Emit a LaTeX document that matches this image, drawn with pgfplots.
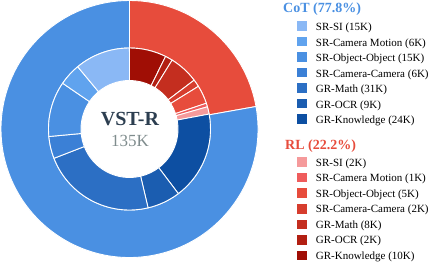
\documentclass[border=0pt]{standalone}
\usepackage{pgfplots}
\usepackage{pgfplotstable}
\pgfplotsset{compat=1.18}
\usepackage{fontspec}
\setmainfont{Liberation Serif}
\usetikzlibrary{calc}

\definecolor{cotmain}{HTML}{4A90E2}
\definecolor{rlmain}{HTML}{E74C3C}
\definecolor{cot1}{HTML}{8AB8F5}
\definecolor{cot2}{HTML}{60A3EE}
\definecolor{cot3}{HTML}{4A90E2}
\definecolor{cot4}{HTML}{3B80D6}
\definecolor{cot5}{HTML}{2C6FC4}
\definecolor{cot6}{HTML}{1B5DB0}
\definecolor{cot7}{HTML}{0D4FA2}
\definecolor{rl1}{HTML}{F59A9B}
\definecolor{rl2}{HTML}{EF5C5C}
\definecolor{rl3}{HTML}{E74C3C}
\definecolor{rl4}{HTML}{D63D2E}
\definecolor{rl5}{HTML}{C42E1F}
\definecolor{rl6}{HTML}{B21F12}
\definecolor{rl7}{HTML}{A00E05}
\definecolor{titlecol}{HTML}{2C3E50}
\definecolor{subcol}{HTML}{7F8C8D}

\pgfplotstableread{
label value
{SR-SI} 15
{SR-Camera Motion} 6
{SR-Object-Object} 15
{SR-Camera-Camera} 6
{GR-Math} 31
{GR-OCR} 9
{GR-Knowledge} 24
}\cotdata

\pgfplotstableread{
label value
{SR-SI} 2
{SR-Camera Motion} 1
{SR-Object-Object} 5
{SR-Camera-Camera} 2
{GR-Math} 8
{GR-OCR} 2
{GR-Knowledge} 10
}\rldata

\pgfplotstableread{
group pct
RL 22.2
CoT 77.8
}\outerdata

\def\rin{48.5pt}
\def\rmid{81pt}
\def\rout{128.5pt}

% total of inner values
\xdef\total{0}
\pgfplotstableforeachcolumnelement{value}\of\cotdata\as\v{\pgfmathsetmacro\t{\total+\v}\xdef\total{\t}}
\pgfplotstableforeachcolumnelement{value}\of\rldata\as\v{\pgfmathsetmacro\t{\total+\v}\xdef\total{\t}}

\newcommand\drawgroup[2]{%
  \pgfplotstablegetrowsof{#1}\pgfmathtruncatemacro\nlast{\pgfplotsretval-1}%
  \foreach \i in {\nlast,...,0}{%
    \pgfplotstablegetelem{\i}{value}\of{#1}\let\v\pgfplotsretval
    \pgfmathsetmacro\a{\curangle}%
    \pgfmathsetmacro\b{\curangle-\v/\total*360}%
    \pgfmathtruncatemacro\ci{\i+1}%
    \fill[#2\ci, draw=white, line width=0.9pt, line join=round]
      ($(axis cs:0,0)+(\a:\rmid)$) arc[start angle=\a, end angle=\b, radius=\rmid]
      -- ($(axis cs:0,0)+(\b:\rin)$) arc[start angle=\b, end angle=\a, radius=\rin] -- cycle;
    \xdef\curangle{\b}%
  }}

\newcommand\legendentry[4]{% y-center of square, baseline, color, text
  \fill[#3] (297.3pt,{#1-4.8pt}) rectangle (306.8pt,{#1+4.8pt});
  \node[anchor=base west, inner sep=0pt, font=\fontsize{11}{13}\selectfont] at (315.7pt,#2) {#4};
}

\begin{document}
\begin{tikzpicture}[x=1pt,y=1pt]
\path[use as bounding box] (0,0) rectangle (431,262);
\begin{axis}[at={(0.5pt,4pt)}, anchor=south west, scale only axis,
  width=258pt, height=258pt, xmin=-1, xmax=1, ymin=-1, ymax=1, hide axis]
\pgfplotsextra{%
  % outer ring
  \pgfplotstablegetelem{0}{pct}\of\outerdata\let\prl\pgfplotsretval
  \pgfmathsetmacro\bnd{90-\prl*3.6}%
  \fill[rlmain, draw=white, line width=0.9pt]
    ($(axis cs:0,0)+(90:\rout)$) arc[start angle=90, end angle=\bnd, radius=\rout]
    -- ($(axis cs:0,0)+(\bnd:\rmid)$) arc[start angle=\bnd, end angle=90, radius=\rmid] -- cycle;
  \fill[cotmain, draw=white, line width=0.9pt]
    ($(axis cs:0,0)+(\bnd:\rout)$) arc[start angle=\bnd, end angle=-270, radius=\rout]
    -- ($(axis cs:0,0)+(-270:\rmid)$) arc[start angle=-270, end angle=\bnd, radius=\rmid] -- cycle;
  % inner ring
  \xdef\curangle{90}%
  \drawgroup{\rldata}{rl}%
  \drawgroup{\cotdata}{cot}%
}
\end{axis}
% centre labels
\node[anchor=base, inner sep=0pt, font=\fontsize{20}{22}\selectfont\bfseries, text=titlecol] at (130,136) {VST-R};
\node[anchor=base, inner sep=0pt, font=\fontsize{17}{19}\selectfont, text=subcol] at (130,115) {135K};
% legend
\node[anchor=base west, inner sep=0pt, font=\fontsize{14}{16}\selectfont\bfseries, text=cotmain] at (283,249.3) {CoT (77.8\%)};
\legendentry{236}{231.3}{cot1}{SR-SI (15K)}
\legendentry{220.5}{215.8}{cot2}{SR-Camera Motion (6K)}
\legendentry{205}{200.3}{cot3}{SR-Object-Object (15K)}
\legendentry{189.5}{184.8}{cot4}{SR-Camera-Camera (6K)}
\legendentry{174}{169.3}{cot5}{GR-Math (31K)}
\legendentry{158.5}{153.8}{cot6}{GR-OCR (9K)}
\legendentry{143}{138.3}{cot7}{GR-Knowledge (24K)}
\node[anchor=base west, inner sep=0pt, font=\fontsize{14}{16}\selectfont\bfseries, text=rlmain] at (285,112.7) {RL (22.2\%)};
\legendentry{100}{95.5}{rl1}{SR-SI (2K)}
\legendentry{84.4}{80}{rl2}{SR-Camera Motion (1K)}
\legendentry{68.8}{64.5}{rl3}{SR-Object-Object (5K)}
\legendentry{53.2}{49}{rl4}{SR-Camera-Camera (2K)}
\legendentry{37.6}{33.5}{rl5}{GR-Math (8K)}
\legendentry{22}{18}{rl6}{GR-OCR (2K)}
\legendentry{6.4}{2.5}{rl7}{GR-Knowledge (10K)}
\end{tikzpicture}
\end{document}
